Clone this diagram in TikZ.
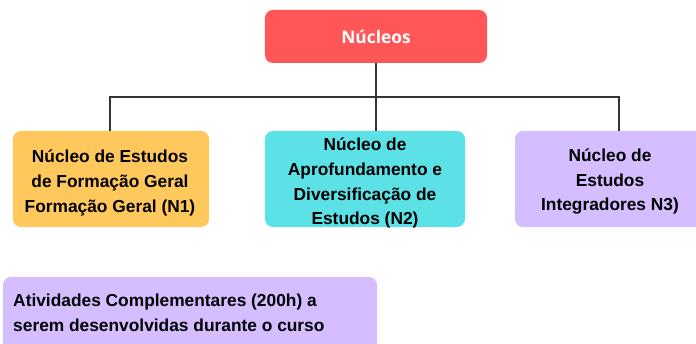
\documentclass[tikz,border=0pt]{standalone}
\usepackage{fontspec}
\setmainfont{Liberation Sans}
\newfontfamily\titlefont{Open Sans}
\usepackage{tikz}
\usetikzlibrary{positioning, calc}

\definecolor{nucred}{HTML}{FF5757}
\definecolor{nucyellow}{HTML}{FFC85C}
\definecolor{nuccyan}{HTML}{5CE1E6}
\definecolor{nuclilac}{HTML}{D4BEFF}
\definecolor{nucline}{HTML}{333333}

\begin{document}
\begin{tikzpicture}[x=0.03cm, y=-0.03cm,
font=\fontsize{14.8}{21.3}\selectfont\bfseries,
box/.style={rectangle, rounded corners=0.24cm, inner sep=0pt},
title/.style={box, fill=nucred, text=white, minimum width=6.66cm, minimum height=1.59cm, font=\fontsize{14.8}{21.3}\selectfont\titlefont\bfseries},
nucleo/.style={box, minimum height=2.88cm},
label/.style={inner sep=0pt, align=center},
line/.style={draw=nucline, line width=1.2pt}]

\useasboundingbox (0,0) rectangle (696,344);

% Nodes
\node[title] (nucleos) at (376,36.5) {Núcleos};

\node[nucleo, fill=nucyellow, minimum width=5.88cm] (n1) at (111,179) {};
\node[nucleo, fill=nuccyan, minimum width=6.0cm] (n2) at (365,179) {};
\node[nucleo, fill=nuclilac, minimum width=5.7cm] (n3) at (610,179) {};

\node[label] (n1text) at (110,182.5) {Núcleo de Estudos\\de Formação Geral\\Formação Geral (N1)};
\node[label] (n2text) at (365,183) {Núcleo de\\Aprofundamento e\\Diversificação de\\Estudos (N2)};
\node[label] (n3text) at (610,181.5) {Núcleo de\\Estudos\\Integradores N3)};

\node[box, fill=nuclilac, minimum width=11.22cm, minimum height=2.25cm] (ativ) at (190,314.5) {};
\node[label, align=left, anchor=west] (ativtext) at (13,312.5)
  {Atividades Complementares (200h) a\\serem desenvolvidas durante o curso};

% Paths
\coordinate (bus) at (376,97);
\path[line] (nucleos.south) -- (bus);
\path[line] (n1.north -| 110,0) |- (bus) -| (n3.north -| 619,0);
\path[line] (bus) -- (bus |- n2.north);
\end{tikzpicture}
\end{document}
